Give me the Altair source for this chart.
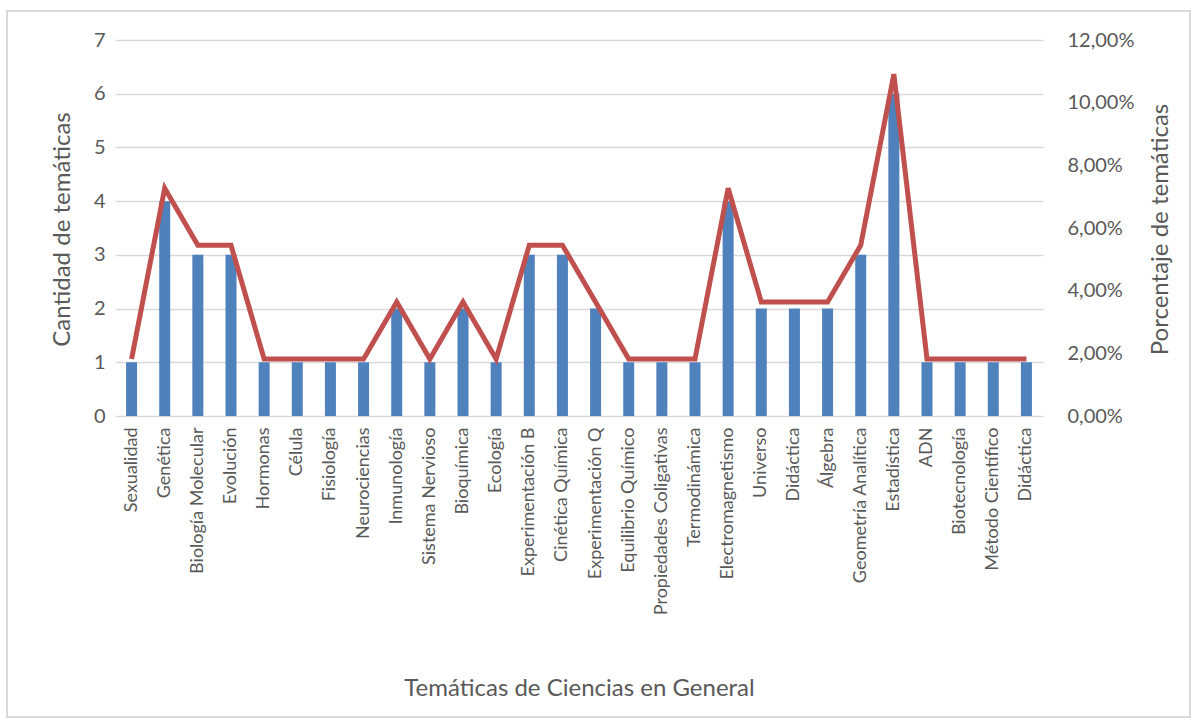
import altair as alt
import pandas as pd

temas = ["Sexualidad", "Genética", "Biología Molecular", "Evolución", "Hormonas", "Célula",
         "Fisiología", "Neurociencias", "Inmunología", "Sistema Nervioso", "Bioquímica", "Ecología",
         "Experimentación B", "Cinética Química", "Experimentación Q", "Equilibrio Químico",
         "Propiedades Coligativas", "Termodinámica", "Electromagnetismo", "Universo", "Didáctica",
         "Álgebra", "Geometría Analítica", "Estadística", "ADN", "Biotecnología",
         "Método Científico", "Didáctica"]
cantidad = [1, 4, 3, 3, 1, 1, 1, 1, 2, 1, 2, 1, 3, 3, 2, 1, 1, 1, 4, 2, 2, 2, 3, 6, 1, 1, 1, 1]
porcentaje = [0.0182, 0.0727, 0.0545, 0.0545, 0.0182, 0.0182, 0.0182, 0.0182, 0.0364, 0.0182,
              0.0364, 0.0182, 0.0545, 0.0545, 0.0364, 0.0182, 0.0182, 0.0182, 0.0727, 0.0364,
              0.0364, 0.0364, 0.0545, 0.1091, 0.0182, 0.0182, 0.0182, 0.0182]

df = pd.DataFrame({"idx": list(range(len(temas))), "tema": temas,
                   "cantidad": cantidad, "porcentaje": porcentaje})

FONT = "Lato"
GREY = "#595959"
label_arr = "[" + ",".join("'" + t + "'" for t in temas) + "]"

x = alt.X("idx:O", sort=None,
          scale=alt.Scale(paddingInner=0, paddingOuter=0),
          axis=alt.Axis(title="Temáticas de Ciencias en General", labelAngle=270,
                        labelExpr=label_arr + "[datum.value]",
                        labelAlign="right", labelBaseline="middle", labelPadding=11,
                        labelFontSize=18, labelColor=GREY, labelFont=FONT, labelLimit=400,
                        titleFontSize=24, titleColor=GREY, titleFont=FONT, titleFontWeight="normal",
                        titleY=272, titleBaseline="middle",
                        ticks=False, domain=False, grid=False))

bars = alt.Chart(df).mark_bar(size=11, color="#4f81bd").encode(
    x=x,
    y=alt.Y("cantidad:Q", scale=alt.Scale(domain=[0, 7]),
            axis=alt.Axis(title="Cantidad de temáticas", values=list(range(8)),
                          labelFontSize=20, labelColor=GREY, labelFont=FONT, labelPadding=10,
                          titleFontSize=24, titleColor=GREY, titleFont=FONT, titleFontWeight="normal",
                          titleX=-53, titleY=189, titleAngle=270, titleBaseline="middle",
                          ticks=False, domain=False, grid=True, gridColor="#d9d9d9", gridWidth=1.5))
)

line = alt.Chart(df).mark_line(color="#c0504d", strokeWidth=5).encode(
    x=x,
    y=alt.Y("porcentaje:Q", scale=alt.Scale(domain=[0, 0.12]),
            axis=alt.Axis(title="Porcentaje de temáticas", orient="right",
                          values=[0, 0.02, 0.04, 0.06, 0.08, 0.10, 0.12],
                          labelExpr="replace(format(datum.value, '.2%'), '.', ',')",
                          labelFontSize=20, labelColor=GREY, labelFont=FONT, labelPadding=24,
                          titleFontSize=24, titleColor=GREY, titleFont=FONT, titleFontWeight="normal",
                          titleX=117, titleY=189, titleAngle=270, titleBaseline="middle",
                          ticks=False, domain=False, grid=False))
)

frame = alt.Chart(df).mark_rect(fill=None, stroke="#d9d9d9", strokeWidth=1.5, clip=False).encode(
    x=alt.value(-108), x2=alt.value(1075), y=alt.value(-29), y2=alt.value(677)
)

chart = alt.layer(frame, bars, line).resolve_scale(y="independent").properties(
    width=928, height=376,
    autosize=alt.AutoSizeParams(type="none"),
    padding={"left": 115, "top": 40, "right": 156, "bottom": 312},
    background="white"
).configure_view(stroke=None)

chart.save("out.html", embed_options={"renderer": "svg", "actions": False})
